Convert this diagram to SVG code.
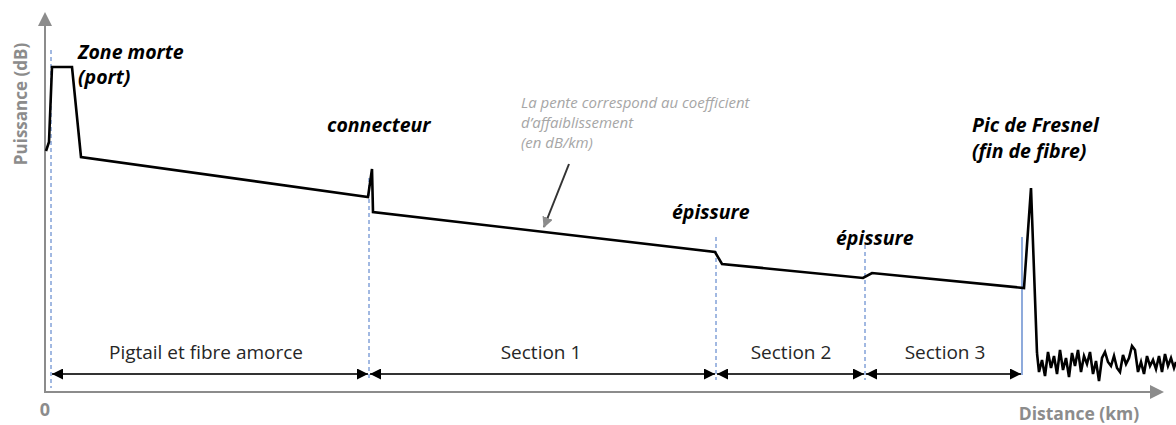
<svg xmlns="http://www.w3.org/2000/svg" width="1176" height="425" viewBox="0 0 1176 425">
  <style>
    .axis { stroke: #8c8c8c; stroke-width: 2; fill: none; }
    .axis-label { font-family: "Open Sans", "Noto Sans", sans-serif; font-weight: bold; fill: #8c8c8c; }
    .trace { stroke: #000; stroke-width: 2.6; fill: none; stroke-linejoin: miter; }
    .marker-line { stroke: #4472c4; stroke-width: 1; stroke-dasharray: 4 3; fill: none; }
    .event { font-family: "Open Sans", "Noto Sans", sans-serif; font-weight: bold; font-style: italic; font-size: 19.5px; fill: #000; }
    .note { font-family: "Open Sans", "Noto Sans", sans-serif; font-style: italic; font-size: 15px; fill: #a6a6a6; }
    .dim { stroke: #333; stroke-width: 2; fill: none; }
    .dim-label { font-family: "Open Sans", "Noto Sans", sans-serif; font-size: 19px; fill: #262626; text-anchor: middle; }
  </style>
  <defs>
    <marker id="dimEnd" viewBox="0 0 10 10" refX="10" refY="5" markerWidth="11" markerHeight="11" markerUnits="userSpaceOnUse" orient="auto">
      <path d="M0,0 L10,5 L0,10 Z" fill="#000"/>
    </marker>
    <marker id="dimStart" viewBox="0 0 10 10" refX="0" refY="5" markerWidth="11" markerHeight="11" markerUnits="userSpaceOnUse" orient="auto">
      <path d="M10,0 L0,5 L10,10 Z" fill="#000"/>
    </marker>
    <marker id="noteArrow" viewBox="0 0 10 10" refX="9" refY="5" markerWidth="11" markerHeight="11" markerUnits="userSpaceOnUse" orient="auto">
      <path d="M0,0 L10,5 L0,10 Z" fill="#8c8c8c"/>
    </marker>
  </defs>

  <!-- axes -->
  <g id="axes">
    <line class="axis" x1="45" y1="393" x2="45" y2="24"/>
    <path d="M38,26 L45,12 L52,26 Z" fill="#8c8c8c"/>
    <line class="axis" x1="44" y1="392" x2="1152" y2="392"/>
    <path d="M1150,385 L1164,392 L1150,399 Z" fill="#8c8c8c"/>
    <text class="axis-label" x="45" y="416" font-size="18" text-anchor="middle">0</text>
    <text class="axis-label" x="1079" y="420" font-size="17.5" text-anchor="middle">Distance (km)</text>
    <text class="axis-label" font-size="17" text-anchor="middle" transform="translate(27,104) rotate(-90)">Puissance (dB)</text>
  </g>

  <!-- event position markers -->
  <g id="markers">
    <line class="marker-line" x1="51" y1="50" x2="51" y2="388"/>
    <line class="marker-line" x1="369" y1="178" x2="369" y2="380"/>
    <line class="marker-line" x1="716" y1="237" x2="716" y2="380"/>
    <line class="marker-line" x1="865" y1="245" x2="865" y2="380"/>
    <line x1="1022" y1="237" x2="1022" y2="375" stroke="#4472c4" stroke-width="1.2"/>
  </g>

  <!-- OTDR trace -->
  <g id="trace">
    <polyline class="trace" points="46,151 49,142 52,67 72,67 81,157 368,197 372,169 373,212 715,252 722,264 863,278 872,273 1024,288 1031,188 1037,353"/>
    <polyline class="trace" stroke-width="2.3" points="1037,353 1039,372 1042,360 1045,376 1048,352 1051,368 1054,356 1057,374 1060,350 1063,370 1066,358 1069,377 1072,353 1075,366 1078,350 1081,372 1084,356 1087,364 1090,352 1093,374 1096,361 1099,381 1102,358 1105,352 1108,362 1111,366 1114,356 1117,368 1120,372 1123,355 1126,364 1129,358 1132,346 1135,350 1138,372 1141,362 1144,374 1147,356 1150,366 1153,360 1156,369 1159,356 1162,372 1165,354 1168,366 1171,358 1174,368 1176,362"/>
  </g>

  <!-- event labels -->
  <g id="label-zone-morte">
    <text class="event" x="78" y="59">Zone morte</text>
    <text class="event" x="78" y="84">(port)</text>
  </g>
  <g id="label-connecteur">
    <text class="event" x="327" y="132">connecteur</text>
  </g>
  <g id="label-epissure-1">
    <text class="event" x="672" y="219">épissure</text>
  </g>
  <g id="label-epissure-2">
    <text class="event" x="836" y="245">épissure</text>
  </g>
  <g id="label-fresnel">
    <text class="event" x="972" y="132" font-size="18">Pic de Fresnel</text>
    <text class="event" x="972" y="158" font-size="18">(fin de fibre)</text>
  </g>

  <!-- slope note -->
  <g id="note-pente">
    <text class="note" x="521" y="108">La pente correspond au coefficient</text>
    <text class="note" x="521" y="128">d’affaiblissement</text>
    <text class="note" x="521" y="148">(en dB/km)</text>
  </g>

  <!-- section dimensions -->
  <g id="connectors">
    <line class="dim" x1="569" y1="164" x2="544" y2="227" stroke="#8c8c8c" stroke-width="1.3" marker-end="url(#noteArrow)"/>
    <line class="dim" x1="52" y1="374" x2="368" y2="374" marker-start="url(#dimStart)" marker-end="url(#dimEnd)"/>
    <line class="dim" x1="370" y1="374" x2="715" y2="374" marker-start="url(#dimStart)" marker-end="url(#dimEnd)"/>
    <line class="dim" x1="717" y1="374" x2="864" y2="374" marker-start="url(#dimStart)" marker-end="url(#dimEnd)"/>
    <line class="dim" x1="866" y1="374" x2="1021" y2="374" marker-start="url(#dimStart)" marker-end="url(#dimEnd)"/>
  </g>
  <g id="section-labels">
    <text class="dim-label" x="206" y="359">Pigtail et fibre amorce</text>
    <text class="dim-label" x="541" y="359">Section 1</text>
    <text class="dim-label" x="791" y="359">Section 2</text>
    <text class="dim-label" x="945" y="359">Section 3</text>
  </g>
</svg>
